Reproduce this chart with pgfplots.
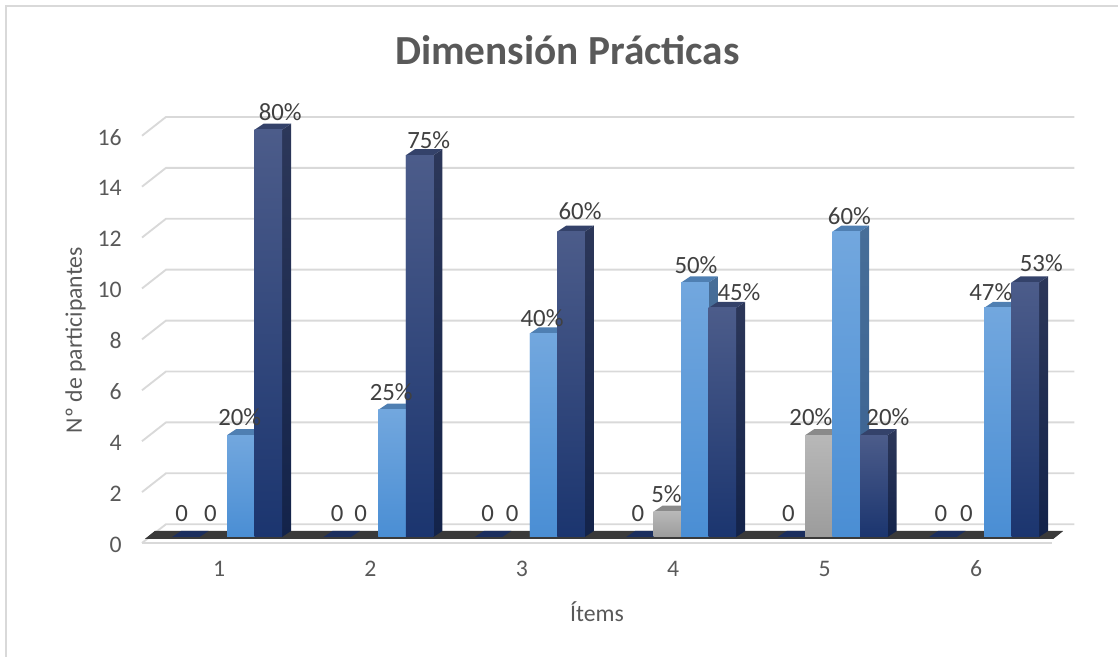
\documentclass[border=0pt]{standalone}
\usepackage{fontspec}
\setmainfont{Carlito}
\usepackage{pgfplots}
\pgfplotsset{compat=1.18}
\usepackage{pgfplotstable}

\definecolor{txt}{HTML}{595959}
\definecolor{lbl}{HTML}{404040}
\definecolor{gridc}{HTML}{D9D9D9}
\definecolor{framec}{HTML}{D9D9D9}
% series 1 (navy, flat)
\definecolor{sAtop}{HTML}{1B2E5E}
% series 2 (gray)
\definecolor{sBhi}{HTML}{B8B8B8}
\definecolor{sBlo}{HTML}{9C9C9C}
\definecolor{sBtop}{HTML}{8A8A8A}
\definecolor{sBsideA}{HTML}{7E7E7E}
\definecolor{sBsideB}{HTML}{6E6E6E}
% series 3 (light blue)
\definecolor{sChi}{HTML}{72A7DE}
\definecolor{sClo}{HTML}{4A8ED4}
\definecolor{sCtop}{HTML}{4F7FB2}
\definecolor{sCsideA}{HTML}{476E98}
\definecolor{sCsideB}{HTML}{3A6191}
% series 4 (dark blue)
\definecolor{sDhi}{HTML}{4C5C8A}
\definecolor{sDlo}{HTML}{1B356F}
\definecolor{sDtop}{HTML}{34426A}
\definecolor{sDsideA}{HTML}{2C3759}
\definecolor{sDsideB}{HTML}{13234A}
\definecolor{floorc}{HTML}{3A3A3A}

% values per series; dx/dy place each label (px) relative to the bar top
\pgfplotstableread{
x y lbl dx dy
1 0 0 -4 23
2 0 0 0 23
3 0 0 -1 23
4 0 0 -2 23
5 0 0 -3 23
6 0 0 -2 23
}\sone
\pgfplotstableread{
x y lbl dx dy
1 0 0 -3 23
2 0 0 -4 23
3 0 0 -4 23
4 1 5\% -1 17
5 4 20\% -8 18.5
6 0 0 -4 23
}\stwo
\pgfplotstableread{
x y lbl dx dy
1 4 20\% -1 18
2 5 25\% -1 18
3 8 40\% -1.5 15
4 10 50\% 1 17.5
5 12 60\% 3 15
6 9 47\% -7 16
}\sthree
\pgfplotstableread{
x y lbl dx dy
1 16 80\% 12 18
2 15 75\% 9 15
3 12 60\% 9 20
4 9 45\% 16.5 16
5 4 20\% 14 18.5
6 10 53\% 16 19.5
}\sfour

\pgfdeclareplotmark{blank}{}

\newcommand\lblfont{\fontsize{17.8}{21}\selectfont}
\newcommand\valfont{\fontsize{18.6}{22}\selectfont}

\pgfplotsset{
  % 3-D column drawn at each bar top: side face, top face, front face
  faces/.style n args={6}{%
    only marks, mark=blank, scatter,
    visualization depends on={rawy \as \barval},
    scatter/@pre marker code/.code={%
      \pgfmathsetlengthmacro\hh{\barval*19.09pt}%
      \pgfmathsetlengthmacro\xr{#1+10.3125pt}%
      \pgfmathsetlengthmacro\xl{#1-10.3125pt}%
      \ifdim\hh>0.05pt
        \shade[draw=none, top color=#3, bottom color=#4] (\xr,0pt) -- (\xr,-\hh) -- ++(6.75pt,4.5pt) -- ++(0pt,\hh) -- cycle;
      \fi
      \fill[draw=none, fill=#2] (\xl,0pt) -- (\xr,0pt) -- ++(6.75pt,4.5pt) -- ++(-20.625pt,0pt) -- cycle;
      \ifdim\hh>0.05pt
        \shade[draw=none, top color=#5, bottom color=#6] (\xl,0pt) rectangle (\xr,-\hh);
      \fi
    },
    scatter/@post marker code/.code={},
  },
  % front faces as plain bars
  front/.style n args={3}{%
    ybar, bar width=20.625pt, bar shift=#1, draw=none,
    top color=#2, bottom color=#3,
    y filter/.expression={y==0 ? nan : y},
  },
  % value labels
  vals/.style={%
    draw=none, mark=none, nodes near coords,
    point meta=explicit symbolic,
    visualization depends on={\thisrow{dx} \as \ldx},
    visualization depends on={\thisrow{dy} \as \ldy},
    every node near coord/.append style={anchor=center, inner sep=0pt,
      font=\valfont, text=lbl,
      xshift=#1+0.75pt*\ldx, yshift=0.75pt*\ldy},
  },
}

\begin{document}
\begin{tikzpicture}
\useasboundingbox (0,0) rectangle (838.5pt,492.75pt);
\draw[framec, line width=1.5pt] (4.5pt,0pt) -- (4.5pt,488.25pt) -- (838.5pt,488.25pt);

\begin{axis}[
  at={(113.5pt,90pt)}, anchor=south west,
  x=113.55pt, y=19.09pt,
  xmin=0.5, xmax=6.5, ymin=0, ymax=16,
  enlargelimits=false, clip=false,
  axis line style={draw=none},
  major tick length=0pt,
  xtick={1,...,6}, ytick={0,2,...,16},
  /pgf/number format/assume math mode=true,
  ticklabel style={font=\lblfont, text=txt, inner sep=0pt},
  xticklabel style={anchor=center, xshift=-6pt, yshift=-24pt},
  yticklabel style={anchor=east, xshift=-22pt, yshift=-5.7pt},
]
% back wall and side wall gridlines
\pgfplotsinvokeforeach{0,2,4,6,8,10,12,14,16}{%
  \draw[gridc, line width=1.4pt]
    ([shift={(-7pt,-4.5pt)}]axis cs:0.5,#1) --
    ([shift={(11pt,9.6pt)}]axis cs:0.5,#1) --
    ([shift={(11pt,9.6pt)}]axis cs:6.5,#1);
}
% front edge of the floor
\draw[gridc, line width=1.6pt]
  ([shift={(-7pt,-4.5pt)}]axis cs:0.5,0) -- ([shift={(-5.8pt,-4.5pt)}]axis cs:6.5,0);
% floor slab
\fill[floorc]
  ([shift={(-4.9pt,-1.5pt)}]axis cs:0.5,0) -- ([shift={(-4.9pt,-1.5pt)}]axis cs:6.5,0) --
  ([shift={(2.6pt,4.5pt)}]axis cs:6.5,0) -- ([shift={(2.6pt,4.5pt)}]axis cs:0.5,0) -- cycle;

% series 1
\addplot[faces={-30.9375pt}{sAtop}{sAtop}{sAtop}{sAtop}{sAtop}] table[x=x,y=y]{\sone};
% series 2
\addplot[front={-10.3125pt}{sBhi}{sBlo}] table[x=x,y=y]{\stwo};
\addplot[faces={-10.3125pt}{sBtop}{sBsideA}{sBsideB}{sBhi}{sBlo}, y filter/.expression={y==0 ? nan : y}] table[x=x,y=y]{\stwo};
% series 3
\addplot[front={10.3125pt}{sChi}{sClo}] table[x=x,y=y]{\sthree};
\addplot[faces={10.3125pt}{sCtop}{sCsideA}{sCsideB}{sChi}{sClo}] table[x=x,y=y]{\sthree};
% series 4
\addplot[front={30.9375pt}{sDhi}{sDlo}] table[x=x,y=y]{\sfour};
\addplot[faces={30.9375pt}{sDtop}{sDsideA}{sDsideB}{sDhi}{sDlo}] table[x=x,y=y]{\sfour};

% labels on top of everything
\addplot[vals={-30.9375pt}] table[x=x,y=y,meta=lbl]{\sone};
\addplot[vals={-10.3125pt}] table[x=x,y=y,meta=lbl]{\stwo};
\addplot[vals={10.3125pt}] table[x=x,y=y,meta=lbl]{\sthree};
\addplot[vals={30.9375pt}] table[x=x,y=y,meta=lbl]{\sfour};
\end{axis}

\node[anchor=base, font=\fontsize{31}{36}\selectfont\bfseries, text=txt] at (425.6pt,444pt) {Dimensión Prácticas};
\node[font=\lblfont, text=txt] at (447.75pt,33.75pt) {Ítems};
\node[rotate=90, font=\lblfont, text=txt] at (56.6pt,237.75pt) {Nº de participantes};
\end{tikzpicture}
\end{document}
